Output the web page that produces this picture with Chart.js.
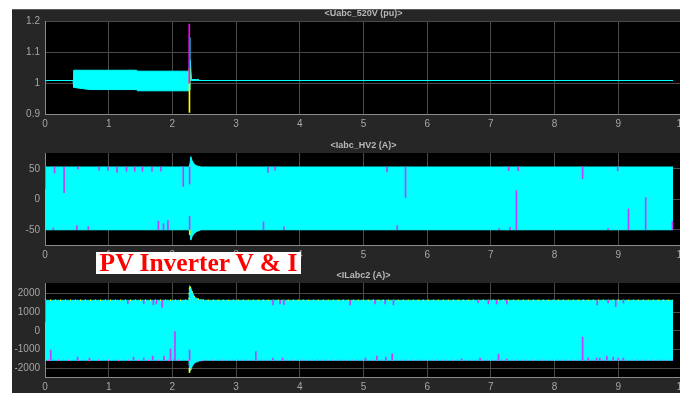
<!DOCTYPE html>
<html>
<head>
<meta charset="utf-8">
<script src="https://cdn.jsdelivr.net/npm/chart.js@4.4.0/dist/chart.umd.min.js"></script>
<style>
    html, body { margin: 0; padding: 0; background: #fff; width: 680px; height: 393px; overflow: hidden; }
    #panel { position: absolute; left: 12px; top: 9px; width: 700px; height: 400px; background: #262626; border-top: 1px solid #5c5c5c; box-sizing: border-box; }
    canvas { position: absolute; left: 12px; }
    #tag {
        position: absolute; left: 96px; top: 252px; width: 205px; height: 22px;
        background: #fff; color: #f00; text-align: center; white-space: nowrap;
        font: bold 25.5px "Liberation Serif", "Times New Roman", serif; line-height: 22px;
    }
</style>
</head>
<body>
<div id="panel"></div>
<canvas id="c-volt" width="680" height="128" style="top:9px"></canvas>
<canvas id="c-hv2" width="680" height="126" style="top:139px"></canvas>
<canvas id="c-il2" width="680" height="124" style="top:269px"></canvas>
<div id="tag">PV Inverter V &amp; I</div>
<script>
// x axis (s)
const xTicks = [0, 1, 2, 3, 4, 5, 6, 7, 8, 9, 10];

// <Uabc_520V (pu)> : envelope of the three phases
const vTime  = [0, 0.44, 0.45, 0.70, 1.44, 1.45, 2.26, 2.262, 2.28, 2.30, 2.38, 2.40, 2.43, 9.86];
const vUpper = [1.009, 1.009, 1.042, 1.042, 1.042, 1.039, 1.039, 1.009, 1.075, 1.012, 1.012, 1.013, 1.009, 1.009];
const vLower = [1.009, 1.009, 0.987, 0.980, 0.980, 0.976, 0.976, 1.009, 1.009, 1.009, 1.009, 1.009, 1.009, 1.009];
// fault transient, one stroke per phase (a, c, b)
const vSpikeT  = [2.265, 2.268, 2.272];
const vSpikeLo = [1.000, 0.907, 0.980];
const vSpikeHi = [1.190, 1.049, 1.146];
const vTicks = [0.9, 1, 1.1, 1.2];

// <Iabc_HV2 (A)>
const hvTime  = [0, 2.26, 2.275, 2.29, 2.31, 2.34, 2.38, 2.45, 9.86];
const hvUpper = [53, 53, 58, 70, 63, 58, 55, 53, 53];
const hvLower = [-50, -50, -55, -67, -61, -56, -53, -50, -50];
const hvTopT   = [0.0, 0.15, 0.30, 0.52, 0.85, 0.99, 1.13, 1.28, 1.41, 1.53, 1.68, 1.82, 2.17, 2.27, 3.50, 3.61, 5.37, 5.66, 7.28, 7.43, 8.44, 8.99];
const hvTopTip = [17, 43, 11, 50, 48, 48, 44, 46, 46, 46, 46, 46, 21, 25, 44, 48, 45, 3, 47, 47, 34, 47];
const hvBotT   = [0.13, 0.50, 0.68, 1.78, 1.86, 1.93, 2.27, 3.43, 3.75, 5.53, 7.13, 7.30, 7.40, 8.84, 9.16, 9.43, 9.85];
const hvBotTip = [-47, -43, -45, -36, -40, -35, -28, -37, -45, -43, -48, -46, 14, -48, -16, 3, -36];
const hvTicks = [-50, 0, 50];

// <ILabc2 (A)>
const ilTime  = [0, 2.26, 2.27, 2.29, 2.31, 2.35, 2.42, 2.5, 9.86];
const ilUpper = [1645, 1645, 2430, 2300, 2100, 1800, 1690, 1645, 1645];
const ilLower = [-1570, -1570, -2180, -2100, -1900, -1700, -1610, -1570, -1570];
const ilTopT   = [0, 1.30, 1.55, 1.70, 1.75, 1.84, 3.58, 3.69, 3.75, 4.79, 5.18, 5.34, 5.47, 6.80, 6.96, 7.09, 7.25, 8.67, 8.84, 8.96, 9.08];
const ilTopTip = [500, 1450, 1450, 1400, 1450, 1270, 1400, 1450, 1420, 1400, 1450, 1450, 1400, 1530, 1450, 1450, 1450, 1400, 1500, 1300, 1500];
const ilBotT   = [0.09, 0.51, 0.70, 1.39, 1.55, 1.69, 1.87, 1.97, 2.04, 2.27, 3.31, 3.58, 3.73, 5.03, 5.21, 5.35, 5.45, 6.54, 6.83, 7.12, 7.25, 8.44, 8.53, 8.66, 8.71, 8.82, 8.92, 9.00, 9.08];
const ilBotTip = [-1020, -1400, -1450, -1400, -1450, -1350, -1350, -960, 0, -1020, -1100, -1450, -1450, -1450, -1350, -1400, -1230, -1500, -1450, -1250, -1500, -330, -1450, -1450, -1450, -1350, -1400, -1450, -1450];
const ilTicks = [-2000, -1000, 0, 1000, 2000];

const CYAN = '#00ffff';
const VIOLET = '#bf40ff';

function pts(t, y) {
    return t.map(function (v, i) { return { x: v, y: y[i] }; });
}
function strokes(t, from, to) {
    return t.map(function (v, i) { return { x: v, y: [from[i], to[i]] }; });
}
function same(n, v) {
    return Array(n).fill(v);
}

function band(time, upper, lower) {
    return [
        { data: pts(time, upper), borderColor: CYAN, borderWidth: 1, fill: false, order: 10 },
        { data: pts(time, lower), borderColor: CYAN, borderWidth: 1, backgroundColor: CYAN, fill: '-1', order: 10 },
    ];
}
function spikeSet(data, color) {
    return { type: 'bar', data: data, backgroundColor: color, barThickness: 1, grouped: false, order: 1 };
}

// black plot area + title above it
const scopeFrame = {
    id: 'scopeFrame',
    beforeDraw(chart, args, opts) {
        const a = chart.chartArea;
        const ctx = chart.ctx;
        ctx.save();
        ctx.fillStyle = '#000';
        ctx.fillRect(a.left, a.top, a.right - a.left, a.bottom - a.top);
        ctx.fillStyle = '#b8b8b8';
        ctx.font = 'bold 9px "Liberation Sans", Arial, sans-serif';
        ctx.textAlign = 'center';
        ctx.textBaseline = 'middle';
        ctx.fillText(opts.title, (a.left + a.right) / 2, a.top - 7);
        ctx.restore();
    },
};

function scope(id, cfg) {
    return new Chart(document.getElementById(id), {
        type: 'line',
        data: { datasets: cfg.datasets },
        options: {
            responsive: false,
            animation: false,
            layout: { padding: { top: cfg.padTop, right: 10, left: 0, bottom: 0 } },
            elements: { point: { radius: 0 }, line: { tension: 0 } },
            plugins: {
                legend: { display: false },
                tooltip: { enabled: false },
                scopeFrame: { title: cfg.title },
            },
            scales: {
                x: {
                    type: 'linear',
                    min: 0,
                    max: 10,
                    offset: false,
                    afterBuildTicks(s) { s.ticks = xTicks.map(function (v) { return { value: v }; }); },
                    afterFit(s) { s.height = cfg.xHeight; },
                    grid: { color: '#4a4a4a', drawTicks: false, offset: false },
                    border: { color: '#8a8a8a' },
                    ticks: { color: '#a6a6a6', padding: 4, maxRotation: 0, autoSkip: false, font: { size: 10, family: '"Liberation Sans", Arial, sans-serif' } },
                },
                y: {
                    min: cfg.yMin,
                    max: cfg.yMax,
                    afterBuildTicks(s) { s.ticks = cfg.yTicks.map(function (v) { return { value: v }; }); },
                    afterFit(s) { s.width = 33; },
                    grid: { color: '#4a4a4a', drawTicks: false },
                    border: { color: '#8a8a8a' },
                    ticks: {
                        color: '#a6a6a6',
                        padding: 5,
                        font: { size: 10, family: '"Liberation Sans", Arial, sans-serif' },
                        callback(v) { return String(Math.round(v * 10) / 10); },
                    },
                },
            },
        },
        plugins: [scopeFrame],
    });
}

scope('c-volt', {
    title: '<Uabc_520V (pu)>',
    padTop: 12,
    xHeight: 22.5,
    yMin: 0.9,
    yMax: 1.2,
    yTicks: vTicks,
    datasets: band(vTime, vUpper, vLower).concat([
        spikeSet(strokes(vSpikeT.slice(0, 1), vSpikeLo.slice(0, 1), vSpikeHi.slice(0, 1)), '#ff00ff'),
        spikeSet(strokes(vSpikeT.slice(1, 2), vSpikeLo.slice(1, 2), vSpikeHi.slice(1, 2)), '#ffff00'),
        spikeSet(strokes(vSpikeT.slice(2, 3), vSpikeLo.slice(2, 3), vSpikeHi.slice(2, 3)), CYAN),
    ]),
});

scope('c-hv2', {
    title: '<Iabc_HV2 (A)>',
    padTop: 14,
    xHeight: 20,
    yMin: -75,
    yMax: 76,
    yTicks: hvTicks,
    datasets: band(hvTime, hvUpper, hvLower).concat([
        spikeSet(strokes(hvTopT, same(hvTopT.length, hvUpper[0]), hvTopTip), VIOLET),
        spikeSet(strokes(hvBotT, same(hvBotT.length, hvLower[0]), hvBotTip), VIOLET),
        spikeSet(strokes([2.272], [-50], [-58]), '#c8ff00'),
    ]),
});

scope('c-il2', {
    title: '<ILabc2 (A)>',
    padTop: 14,
    xHeight: 16,
    yMin: -2470,
    yMax: 2575,
    yTicks: ilTicks,
    datasets: [
        { data: pts(ilTime, ilUpper), borderColor: '#ffff00', borderWidth: 1.5, borderDash: [1, 4], fill: false, order: 2 },
        { data: pts(ilTime, ilLower), borderColor: '#ff40ff', borderWidth: 1.5, borderDash: [1, 4], borderDashOffset: 2, fill: false, order: 2 },
    ].concat(band(ilTime, ilUpper, ilLower), [
        spikeSet(strokes(ilTopT, same(ilTopT.length, ilUpper[0]), ilTopTip), VIOLET),
        spikeSet(strokes(ilBotT, same(ilBotT.length, ilLower[0]), ilBotTip), VIOLET),
        spikeSet(strokes([2.268], [-2000], [-2230]), '#ffff00'),
    ]),
});
</script>
</body>
</html>
